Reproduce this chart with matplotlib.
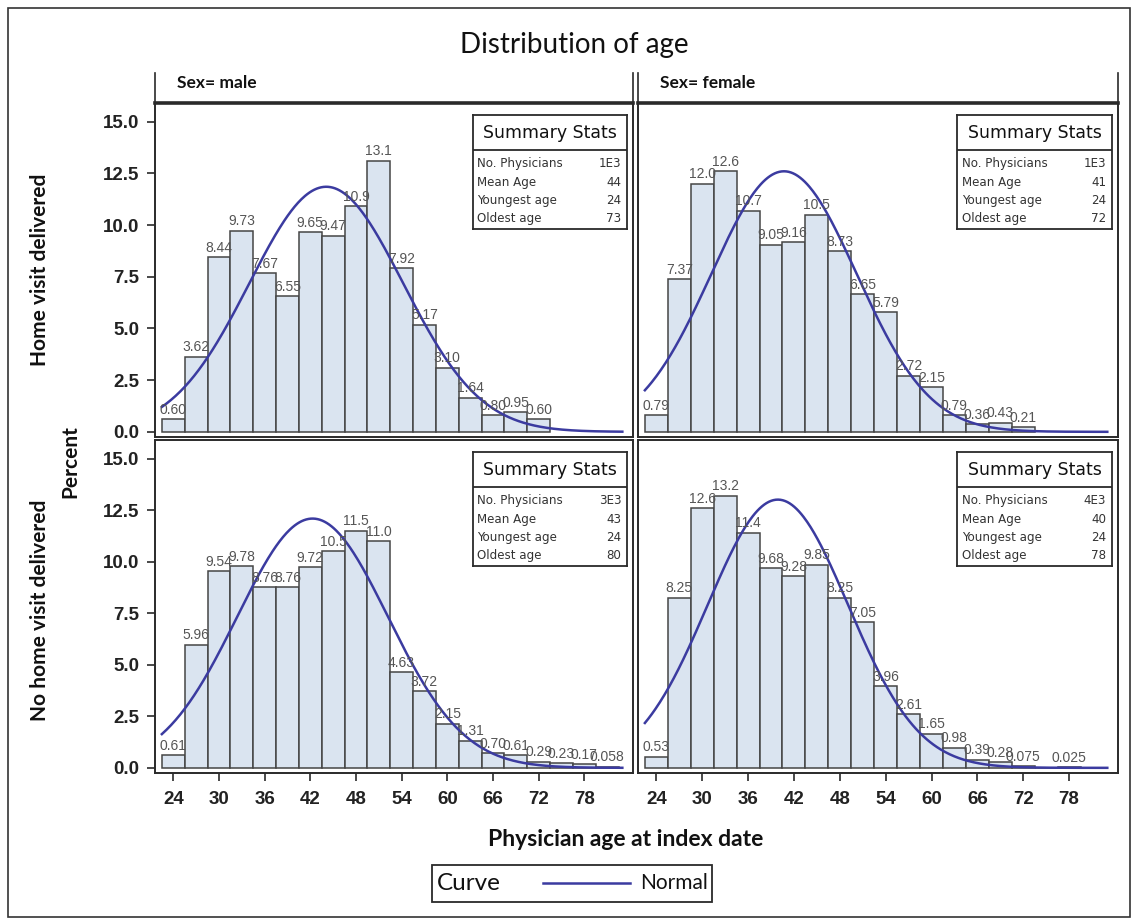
import numpy as np
import matplotlib
matplotlib.use("Agg")
import matplotlib.pyplot as plt
from matplotlib.patches import Rectangle
from matplotlib.lines import Line2D

# ---------------- data ----------------
bin_start = 24
bin_width = 3
male_home = [0.60, 3.62, 8.44, 9.73, 7.67, 6.55, 9.65, 9.47, 10.9, 13.1, 7.92,
             5.17, 3.10, 1.64, 0.80, 0.95, 0.60]
female_home = [0.79, 7.37, 12.0, 12.6, 10.7, 9.05, 9.16, 10.5, 8.73, 6.65, 5.79,
               2.72, 2.15, 0.79, 0.36, 0.43, 0.21]
male_nohome = [0.61, 5.96, 9.54, 9.78, 8.76, 8.76, 9.72, 10.5, 11.5, 11.0, 4.63,
               3.72, 2.15, 1.31, 0.70, 0.61, 0.29, 0.23, 0.17, 0.058]
female_nohome = [0.53, 8.25, 12.6, 13.2, 11.4, 9.68, 9.28, 9.85, 8.25, 7.05, 3.96,
                 2.61, 1.65, 0.98, 0.39, 0.28, 0.075, 0.0, 0.025]

# fitted normal parameters (mean, sd) per panel
normal_male_home = (44.1, 10.1)
normal_female_home = (40.7, 9.5)
normal_male_nohome = (42.3, 9.9)
normal_female_nohome = (39.9, 9.2)

stat_names = ["No. Physicians", "Mean Age", "Youngest age", "Oldest age"]
stats_male_home = ["1E3", "44", "24", "73"]
stats_female_home = ["1E3", "41", "24", "72"]
stats_male_nohome = ["3E3", "43", "24", "80"]
stats_female_nohome = ["4E3", "40", "24", "78"]

col_labels = ["Sex= male", "Sex= female"]
row_labels = ["Home visit delivered", "No home visit delivered"]
x_ticks = [24, 30, 36, 42, 48, 54, 60, 66, 72, 78]
y_ticks = [0.0, 2.5, 5.0, 7.5, 10.0, 12.5, 15.0]

# ---------------- style ----------------
BAR_FILL = "#dae4f0"
BAR_EDGE = "#454545"
CURVE = "#3b3ba0"
SPINE = "#2a2a2a"
W, H = 1132, 918

fig = plt.figure(figsize=(W / 100, H / 100), dpi=100)

def fx(px):
    return px / W

def fy(py):
    return 1 - py / H

left_x = (155, 633)
right_x = (638, 1118)
top_y = (103, 437)
bot_y = (440, 773)

def make_ax(xr, yr):
    return fig.add_axes([fx(xr[0]), fy(yr[1]), fx(xr[1] - xr[0]), (yr[1] - yr[0]) / H])

def fmt(v):
    if v >= 10:
        return f"{v:.1f}"
    if v >= 0.1:
        return f"{v:.2f}"
    return f"{v:.3f}"

def panel(ax, vals, normal, stats, show_x, show_y):
    centers = bin_start + bin_width * np.arange(len(vals))
    ax.bar(centers, vals, width=bin_width, color=BAR_FILL, edgecolor=BAR_EDGE,
           linewidth=1.1, zorder=2)
    for c, v in zip(centers, vals):
        if v > 0:
            ax.text(c, v + 0.12, fmt(v), ha="center", va="bottom", fontsize=10,
                    color="#555555", family="Liberation Sans", zorder=4)
    mu, sd = normal
    xs = np.linspace(22.5, 83.0, 400)
    ys = 100 * bin_width / (sd * np.sqrt(2 * np.pi)) * np.exp(-0.5 * ((xs - mu) / sd) ** 2)
    ax.plot(xs, ys, color=CURVE, lw=1.8, zorder=3)
    ax.set_xlim(21.6, 84.4)
    ax.set_ylim(-0.25, 15.9)
    for s in ax.spines.values():
        s.set_color(SPINE)
        s.set_linewidth(1.4)
    ax.set_yticks(y_ticks)
    ax.set_xticks(x_ticks)
    ax.tick_params(axis="both", direction="out", length=6, width=1.2, color=SPINE,
                   labelsize=13.5)
    ax.tick_params(axis="x", pad=7)
    ax.tick_params(axis="y", pad=5)
    if show_y:
        ax.set_yticklabels([f"{t:.1f}" for t in y_ticks], family="Liberation Sans",
                           fontweight="bold", color="#222222")
    else:
        ax.tick_params(axis="y", left=False, labelleft=False)
    if show_x:
        ax.set_xticklabels([str(t) for t in x_ticks], family="Liberation Sans",
                           fontweight="bold", color="#222222")
    else:
        ax.tick_params(axis="x", bottom=False, labelbottom=False)

    # summary stats inset
    ins = ax.inset_axes([0.665, 0.622, 0.322, 0.342])
    ins.set_xlim(0, 1)
    ins.set_ylim(0, 1)
    ins.set_xticks([])
    ins.set_yticks([])
    ins.set_facecolor("white")
    ins.set_zorder(5)
    for s in ins.spines.values():
        s.set_color(SPINE)
        s.set_linewidth(1.3)
    ins.axhline(0.69, color=SPINE, lw=1.3)
    ins.text(0.5, 0.845, "Summary Stats", ha="center", va="center", fontsize=12.5,
             family="DejaVu Sans", color="#111111")
    row_y = [0.575, 0.41, 0.25, 0.09]
    for name, val, yy in zip(stat_names, stats, row_y):
        ins.text(0.03, yy, name, ha="left", va="center", fontsize=8.6,
                 family="DejaVu Sans", color="#333333")
        ins.text(0.965, yy, val, ha="right", va="center", fontsize=8.6,
                 family="DejaVu Sans", color="#333333")

ax_tl = make_ax(left_x, top_y)
ax_tr = make_ax(right_x, top_y)
ax_bl = make_ax(left_x, bot_y)
ax_br = make_ax(right_x, bot_y)

panel(ax_tl, male_home, normal_male_home, stats_male_home, False, True)
panel(ax_tr, female_home, normal_female_home, stats_female_home, False, False)
panel(ax_bl, male_nohome, normal_male_nohome, stats_male_nohome, True, True)
panel(ax_br, female_nohome, normal_female_nohome, stats_female_nohome, True, False)

# column header strips
for xr, lab in zip([left_x, right_x], col_labels):
    hx = fig.add_axes([fx(xr[0]), fy(103), fx(xr[1] - xr[0]), 30 / H])
    hx.set_xticks([])
    hx.set_yticks([])
    hx.patch.set_alpha(0)
    hx.spines["top"].set_visible(False)
    hx.spines["left"].set_linewidth(1.2)
    hx.spines["right"].set_linewidth(1.2)
    hx.spines["bottom"].set_linewidth(2.6)
    for s in hx.spines.values():
        s.set_color(SPINE)
    hx.text(0.045, 0.66, lab, ha="left", va="center", fontsize=12.5,
            family="Lato", fontweight="bold", color="#111111")

# titles and labels
fig.text(fx(574), fy(45), "Distribution of age", ha="center", va="center",
         fontsize=20, family="Lato", color="#111111")
fig.text(fx(40), fy(270), row_labels[0], rotation=90, ha="center", va="center",
         fontsize=15, family="Lato", fontweight="bold", color="#111111")
fig.text(fx(40), fy(610), row_labels[1], rotation=90, ha="center", va="center",
         fontsize=15, family="Lato", fontweight="bold", color="#111111")
fig.text(fx(70), fy(462), "Percent", rotation=90, ha="center", va="center",
         fontsize=15, family="Lato", fontweight="bold", color="#111111")
fig.text(fx(626), fy(840), "Physician age at index date", ha="center", va="center",
         fontsize=16.5, family="Lato", fontweight="bold", color="#111111")

# legend
fig.add_artist(Rectangle((fx(432), fy(902)), fx(280), 37 / H, transform=fig.transFigure,
                         facecolor="white", edgecolor=SPINE, lw=1.3))
fig.text(fx(437), fy(883), "Curve", ha="left", va="center", fontsize=17.5,
         family="Lato", color="#111111")
fig.add_artist(Line2D([fx(543), fx(630)], [fy(883), fy(883)], transform=fig.transFigure,
                      color=CURVE, lw=1.8))
fig.text(fx(640), fy(883), "Normal", ha="left", va="center", fontsize=15,
         family="Lato", color="#111111")

# outer border
fig.add_artist(Rectangle((fx(8), fy(917)), fx(1122), 909 / H, transform=fig.transFigure,
                         facecolor="none", edgecolor="#333333", lw=1.2))

fig.savefig("out.png", dpi=100)
